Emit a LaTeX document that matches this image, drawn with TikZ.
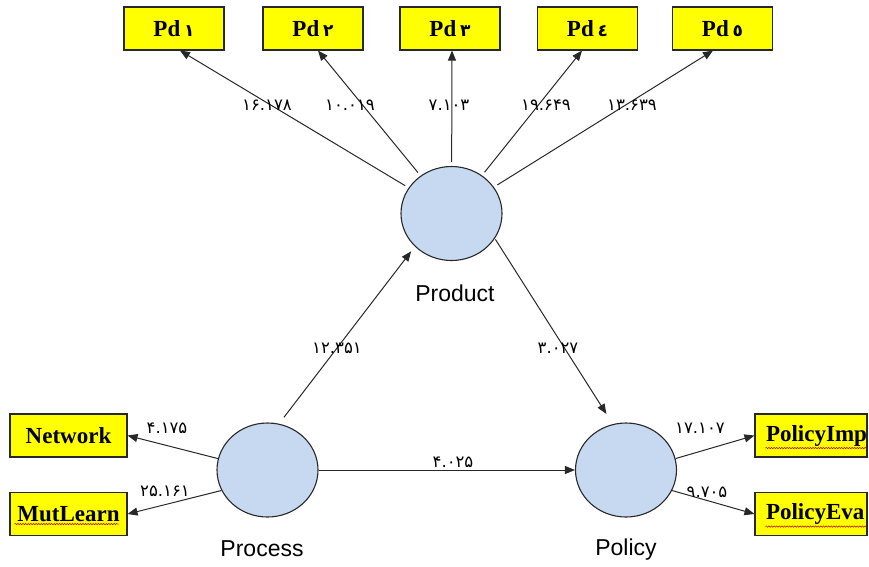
\documentclass[tikz,border=0pt]{standalone}
\usepackage{fontspec}
\setmainfont{Liberation Serif}
\newfontfamily\arialfont{Liberation Sans}
\newfontfamily\numfont{DejaVu Sans}
\usetikzlibrary{arrows.meta,shapes.geometric,decorations.pathmorphing}
\definecolor{boxyellow}{RGB}{255,255,0}
\definecolor{latblue}{RGB}{198,217,240}
\definecolor{edgegray}{RGB}{40,40,40}
\tikzset{
  mbox/.style={draw=edgegray, line width=1.1pt, fill=boxyellow, minimum width=100pt, minimum height=43pt, inner sep=0pt,
    font=\fontsize{23}{26}\selectfont\bfseries},
  lbox/.style={mbox, minimum width=117pt},
  rbox/.style={mbox, minimum width=112pt, text width=90pt, inner xsep=11pt, align=left},
  latent/.style={ellipse, draw=edgegray, line width=1.1pt, fill=latblue, minimum width=101pt, minimum height=94pt, inner sep=0pt},
  lname/.style={font=\arialfont\fontsize{23}{26}\selectfont, inner sep=0pt, anchor=base},
  conn/.style={draw=edgegray, line width=1pt, -{Triangle[length=10pt,width=8pt]}},
  coef/.style={font=\numfont\fontsize{16.5}{18}\selectfont, inner sep=0pt},
  spell/.style={draw=red!75!black, line width=0.5pt, decorate, decoration={snake, amplitude=0.7pt, segment length=2.6pt}}
}
\newcommand{\pdd}[1]{Pd\,{\numfont\bfseries\fontsize{17}{20}\selectfont #1}}
\begin{document}
\begin{tikzpicture}[x=1pt,y=-1pt]
\useasboundingbox (0,0) rectangle (869,566);
% top indicator boxes
\node[mbox] (pd1) at (174,28.5) {\pdd{۱}};
\node[mbox] (pd2) at (313,28.5) {\pdd{۲}};
\node[mbox] (pd3) at (450,28.5) {\pdd{۳}};
\node[mbox] (pd4) at (587.5,28.5) {\pdd{٤}};
\node[mbox] (pd5) at (722.5,28.5) {\pdd{٥}};
% left boxes
\node[lbox] (net) at (68.5,435.5) {Network};
\node[lbox] (mut) at (68.5,514) {MutLearn};
% right boxes
\node[rbox] (pimp) at (811,435.5) {\mbox{PolicyImp}};
\node[rbox] (peva) at (811,514) {\mbox{PolicyEva}};
% latent variables
\node[latent] (prod) at (451.5,213.5) {};
\node[latent] (proc) at (267.5,470) {};
\node[latent] (pol) at (626,470) {};
\node[lname] (prodl) at (455,301) {Product};
\node[lname] (procl) at (262,556.5) {Process};
\node[lname] (poll) at (626,555) {Policy};
% connectors from Product to indicators
\draw[conn, shorten <=4pt] (prod) -- ([xshift=6pt]pd1.south);
\draw[conn, shorten <=4pt] (prod) -- ([xshift=5pt]pd2.south);
\draw[conn, shorten <=4pt] (prod) -- ([xshift=2pt]pd3.south);
\draw[conn, shorten <=4pt] (prod) -- ([xshift=-5.5pt]pd4.south);
\draw[conn, shorten <=4pt] (prod) -- ([xshift=-9.5pt]pd5.south);
% structural paths
\draw[conn, shorten <=8pt, shorten >=6pt] (proc.76) -- (prod.222);
\draw[conn, shorten <=1pt, shorten >=12pt] (prod.-30) -- (pol.106);
\draw[conn] (proc.east) -- (pol.west);
% Process indicators
\draw[conn] (proc.167) -- (net.east);
\draw[conn] (proc.204) -- (mut.east);
% Policy indicators
\draw[conn] (pol.13) -- (pimp.west);
\draw[conn] (pol.-24) -- (peva.west);
% coefficients
\node[coef] (c1) at (267,105) {۱۶.۱۷۸};
\node[coef] (c2) at (350,105) {۱۰.۰۱۹};
\node[coef] (c3) at (449,105) {۷.۱۰۳};
\node[coef] (c4) at (546,105) {۱۹.۶۴۹};
\node[coef] (c5) at (632,105) {۱۳.۶۳۹};
\node[coef] (c6) at (337,348) {۱۲.۳۵۱};
\node[coef] (c7) at (558,348) {۳.۰۲۷};
\node[coef] (c8) at (453,462) {۴.۰۲۵};
\node[coef] (c9) at (167,428) {۴.۱۷۵};
\node[coef] (c10) at (165,491) {۲۵.۱۶۱};
\node[coef] (c11) at (700,428) {۱۷.۱۰۷};
\node[coef] (c12) at (707,492) {۹.۷۰۵};
% spell-check underlines
\draw[spell] ([xshift=5pt,yshift=12pt]mut.south west) -- ([xshift=-9pt,yshift=12pt]mut.south east);
\draw[spell] ([xshift=11pt,yshift=9.5pt]pimp.south west) -- ([xshift=-1pt,yshift=9.5pt]pimp.south east);
\draw[spell] ([xshift=11pt,yshift=9.5pt]peva.south west) -- ([xshift=-1pt,yshift=9.5pt]peva.south east);
\end{tikzpicture}
\end{document}
